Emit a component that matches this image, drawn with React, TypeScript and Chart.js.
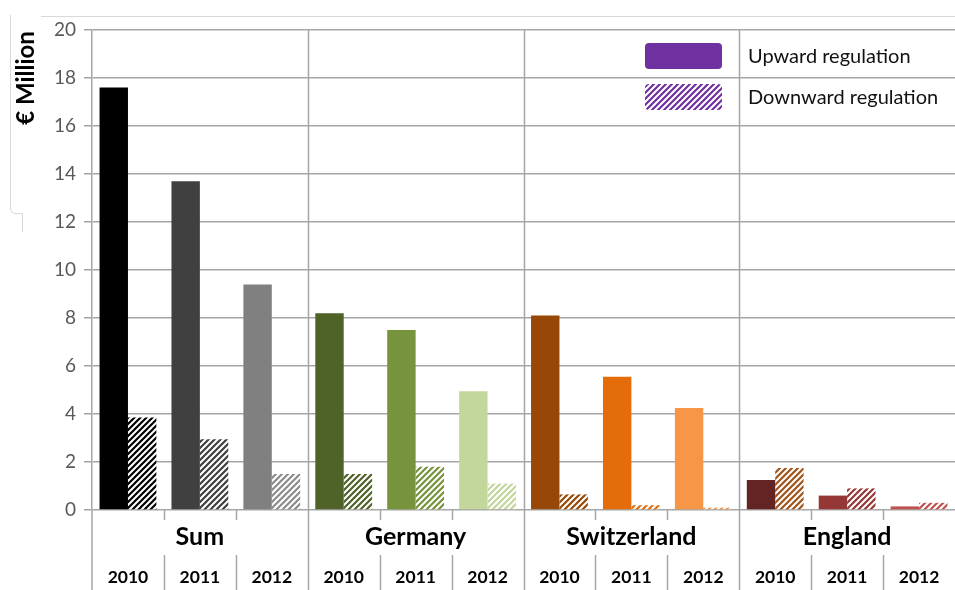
import React, { useEffect, useRef } from "react";
import { Chart, registerables } from "chart.js";

Chart.register(...registerables);

const groups = ["Sum", "Germany", "Switzerland", "England"];
const years = ["2010", "2011", "2012"];
const upward = [17.6, 13.7, 9.4, 8.2, 7.5, 4.95, 8.1, 5.55, 4.25, 1.25, 0.6, 0.15];
const downward = [3.85, 2.95, 1.5, 1.5, 1.8, 1.1, 0.65, 0.2, 0.1, 1.75, 0.9, 0.3];
const upColors = [
  "#000000", "#404040", "#808080",
  "#4f6228", "#77933c", "#c3d69b",
  "#974806", "#e46c0a", "#f79646",
  "#632523", "#953735", "#c0504d",
];
const downColors = [
  "#000000", "#404040", "#8c8c8c",
  "#4f6228", "#77933c", "#c3d69b",
  "#974806", "#e46c0a", "#f79646",
  "#a0541a", "#953735", "#c0504d",
];
const yMin = 0;
const yMax = 20;
const yStep = 2;
const legendLabels = ["Upward regulation", "Downward regulation"];
const legendColor = "#7030a0";
const yTitle = "€ Million";

const FONT = "Lato, 'Open Sans', sans-serif";

function makeHatch(ctx: CanvasRenderingContext2D, color: string) {
  const c = document.createElement("canvas");
  const s = 6;
  c.width = s;
  c.height = s;
  const g = c.getContext("2d")!;
  g.fillStyle = "#ffffff";
  g.fillRect(0, 0, s, s);
  g.strokeStyle = color;
  g.lineWidth = 2.2;
  g.beginPath();
  g.moveTo(-1, s + 1);
  g.lineTo(s + 1, -1);
  g.moveTo(-s / 2 - 1, s / 2 + 1);
  g.lineTo(s / 2 + 1, -s / 2 - 1);
  g.moveTo(s / 2 - 1, s * 1.5 + 1);
  g.lineTo(s * 1.5 + 1, s / 2 - 1);
  g.stroke();
  return ctx.createPattern(c, "repeat") as CanvasPattern;
}

export default function App() {
  const ref = useRef<HTMLCanvasElement>(null);

  useEffect(() => {
    const canvas = ref.current!;
    const ctx = canvas.getContext("2d")!;
    const labels: string[] = [];
    groups.forEach((g) => years.forEach((y) => labels.push(g + " " + y)));
    const downPatterns = downColors.map((c) => makeHatch(ctx, c));
    const legendPattern = makeHatch(ctx, legendColor);

    const gridColor = "#a6a6a6";

    const decor = {
      id: "decor",
      beforeDatasetsDraw(chart: any) {
        const c = chart.ctx;
        const area = chart.chartArea;
        const n = labels.length;
        const slot = (area.right - area.left) / n;
        c.save();
        c.strokeStyle = gridColor;
        c.lineWidth = 1.5;
        for (let gi = 1; gi < groups.length; gi++) {
          const x = Math.round(area.left + gi * years.length * slot) + 0.5;
          c.beginPath();
          c.moveTo(x, area.top);
          c.lineTo(x, chart.height);
          c.stroke();
        }
        c.beginPath();
        c.moveTo(area.left, area.bottom);
        c.lineTo(area.left, chart.height);
        c.stroke();
        for (let i = 1; i < n; i++) {
          if (i % years.length === 0) continue;
          const x = Math.round(area.left + i * slot) + 0.5;
          c.beginPath();
          c.moveTo(x, area.bottom);
          c.lineTo(x, area.bottom + 10);
          c.moveTo(x, area.bottom + 45);
          c.lineTo(x, chart.height);
          c.stroke();
        }
        c.restore();
      },
      afterDraw(chart: any) {
        const c = chart.ctx;
        const area = chart.chartArea;
        const xs = chart.scales.x;
        c.save();
        c.strokeStyle = "#d9d9d9";
        c.lineWidth = 1;
        c.beginPath();
        c.moveTo(41, 16.5);
        c.lineTo(chart.width, 16.5);
        c.moveTo(10.5, 15);
        c.lineTo(10.5, 208);
        c.quadraticCurveTo(10.5, 213.5, 16, 213.5);
        c.lineTo(22.5, 213.5);
        c.lineTo(22.5, 232);
        c.stroke();

        c.fillStyle = "#000000";
        c.textAlign = "center";
        c.textBaseline = "middle";
        c.font = "bold 17.5px " + FONT;
        labels.forEach((_, i) => {
          c.fillText(years[i % years.length], xs.getPixelForValue(i), area.bottom + 67);
        });
        c.font = "bold 25px " + FONT;
        groups.forEach((g, gi) => {
          const x0 = xs.getPixelForValue(gi * years.length);
          const x1 = xs.getPixelForValue(gi * years.length + years.length - 1);
          c.fillText(g, (x0 + x1) / 2, area.bottom + 27);
        });

        c.save();
        c.translate(26, 78);
        c.rotate(-Math.PI / 2);
        c.font = "bold 24px " + FONT;
        c.fillText(yTitle, 0, 0);
        c.restore();

        const lx = 645;
        const lw = 77;
        const lh = 26;
        const ly = [43, 84];
        c.fillStyle = legendColor;
        c.beginPath();
        (c as any).roundRect(lx, ly[0], lw, lh, 4);
        c.fill();
        c.fillStyle = legendPattern;
        c.beginPath();
        (c as any).roundRect(lx, ly[1], lw, lh, 4);
        c.fill();
        c.fillStyle = "#111111";
        c.textAlign = "left";
        c.font = "20px " + FONT;
        legendLabels.forEach((t, i) => {
          c.fillText(t, 748, ly[i] + lh / 2 + 1);
        });
        c.restore();
      },
    };

    const chart = new Chart(canvas, {
      type: "bar",
      data: {
        labels,
        datasets: [
          {
            label: legendLabels[0],
            data: upward,
            backgroundColor: upColors,
            borderWidth: 0,
            categoryPercentage: 0.79,
            barPercentage: 1,
          },
          {
            label: legendLabels[1],
            data: downward,
            backgroundColor: downPatterns as any,
            borderWidth: 0,
            categoryPercentage: 0.79,
            barPercentage: 1,
          },
        ],
      },
      options: {
        responsive: false,
        animation: false,
        layout: { padding: { top: 30, left: 0, right: 0, bottom: 0 } },
        plugins: { legend: { display: false }, tooltip: { enabled: false } },
        scales: {
          x: {
            grid: { display: false },
            border: { display: false },
            ticks: { display: false },
            afterFit: (s: any) => {
              s.height = 80;
            },
          },
          y: {
            min: yMin,
            max: yMax,
            ticks: {
              stepSize: yStep,
              color: "#595959",
              font: { family: FONT, size: 19 },
              padding: 8,
            },
            grid: { color: gridColor, lineWidth: 1.5, tickLength: 8 },
            border: { color: gridColor, width: 1.5 },
            afterFit: (s: any) => {
              s.width = 92;
            },
          },
        },
      },
      plugins: [decor],
    });
    return () => chart.destroy();
  }, []);

  return (
    <div style={{ position: "fixed", left: 0, top: 0, width: 955, height: 590, background: "#fff" }}>
      <canvas ref={ref} width={955} height={590} style={{ display: "block" }} />
    </div>
  );
}
